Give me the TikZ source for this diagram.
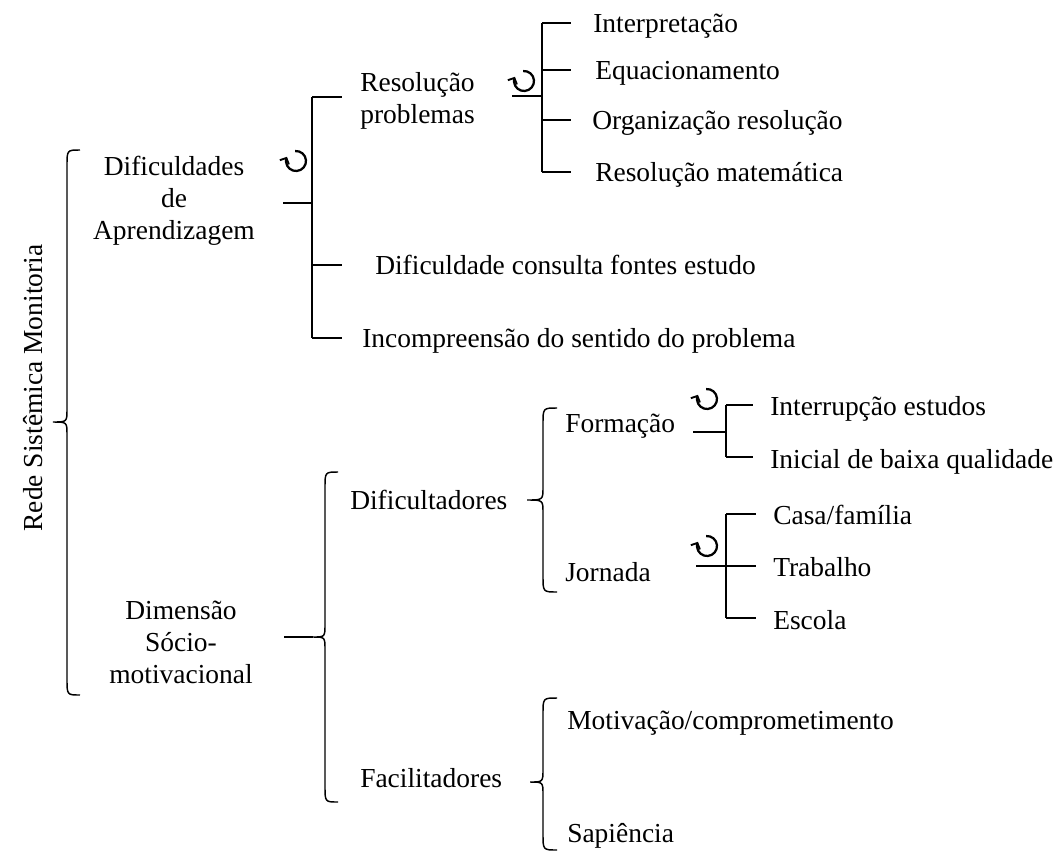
\documentclass[tikz,border=0pt]{standalone}
\usepackage{fontspec}
\setmainfont{Liberation Serif}
\usetikzlibrary{arrows.meta}
\begin{document}
\begin{tikzpicture}[x=0.75pt,y=-0.75pt,
  lbl/.style={inner sep=0pt, anchor=base west, font=\fontsize{20.6}{24}\selectfont},
  blk/.style={inner sep=0pt, align=center, font=\fontsize{20.6}{24}\selectfont},
  cycl/.style={line width=1.7pt, -{Straight Barb[length=3.6pt,width=7.5pt,line width=1.4pt]}},
  ln/.style={line width=1.35pt},
  br/.style={line width=1.1pt}]
\useasboundingbox (0,0) rectangle (1056,853);
\newcommand\lbrc[6]{% vx, top, tipx, tipy, bottom, endx
  \draw[br] (#6,#2) .. controls (#1,#2) .. (#1,#2+16) -- (#1,#4-13)
    .. controls (#1,#4) .. (#3,#4) .. controls (#1,#4) .. (#1,#4+13)
    -- (#1,#5-16) .. controls (#1,#5) .. (#6,#5);}
\newcommand\cyca[3]{% name, x, y
  \coordinate (#1) at (#2,#3);
  \draw[cycl] (#1) ++(-95:10) arc[start angle=-95, end angle=205, radius=10];}

% title
\node[blk, rotate=90] (title) at (33,388) {Rede Sistêmica Monitoria};
\lbrc{67}{150}{53}{422}{695}{80}

% level 1
\node[blk] (dif) at (174,201) {Dificuldades\\de\\Aprendizagem};
\node[blk] (dim) at (181,642) {Dimensão\\Sócio-\\motivacional};

% Dificuldades bracket
\coordinate (s1) at (283,203);
\coordinate (v1t) at (312,97);
\coordinate (v1b) at (312,338);
\draw[ln] (s1) -- (312,203);
\draw[ln] (v1t) -- (v1b);
\draw[ln] (v1t) -- (342,97);
\draw[ln] (312,265) -- (342,265);
\draw[ln] (v1b) -- (342,338);
\cyca{c1}{296}{161}

\node[lbl, anchor=west, align=left] (res) at (360,101) {Resolução\\problemas};
\node[lbl] (cons) at (375,274) {Dificuldade consulta fontes estudo};
\node[lbl] (inc) at (362,347) {Incompreensão do sentido do problema};

% Resolucao bracket
\coordinate (s2) at (512,96);
\draw[ln] (s2) -- (542,96);
\draw[ln] (542,23) -- (542,172);
\foreach \yy in {23,70,120,172} \draw[ln] (542,\yy) -- (571,\yy);
\cyca{c2}{524}{81}
\node[lbl] (int) at (593,32) {Interpretação};
\node[lbl] (equ) at (595,79) {Equacionamento};
\node[lbl] (org) at (592,129) {Organização resolução};
\node[lbl] (rmat) at (595,181) {Resolução matemática};

% Dimensao brace
\coordinate (s3) at (284,637);
\draw[ln] (s3) -- (313,637);
\lbrc{325}{472}{313}{637}{802}{338}

\node[lbl] (dft) at (350,509) {Dificultadores};
\lbrc{543}{408}{527}{500}{592}{557}
\node[lbl] (form) at (565,432) {Formação};
\node[lbl] (jorn) at (565,581) {Jornada};

% Formacao bracket
\coordinate (s4) at (693,432);
\draw[ln] (s4) -- (726,432);
\draw[ln] (726,405) -- (726,457);
\draw[ln] (726,405) -- (753,405);
\draw[ln] (726,457) -- (753,457);
\cyca{c3}{707}{399}
\node[lbl] (intr) at (770,415) {Interrupção estudos};
\node[lbl] (inic) at (770,468) {Inicial de baixa qualidade};

% Jornada bracket
\coordinate (s5) at (696,566);
\draw[ln] (s5) -- (756,566);
\draw[ln] (726,514) -- (726,618);
\draw[ln] (726,514) -- (756,514);
\draw[ln] (726,618) -- (756,618);
\cyca{c4}{707}{546}
\node[lbl] (casa) at (773,524) {Casa/família};
\node[lbl] (trab) at (773,576) {Trabalho};
\node[lbl] (esc) at (773,629) {Escola};

% Facilitadores
\node[lbl] (fac) at (360,787) {Facilitadores};
\lbrc{543}{698}{530}{782}{850}{557}
\node[lbl] (mot) at (567,729) {Motivação/comprometimento};
\node[lbl] (sap) at (567,842) {Sapiência};
\end{tikzpicture}
\end{document}
